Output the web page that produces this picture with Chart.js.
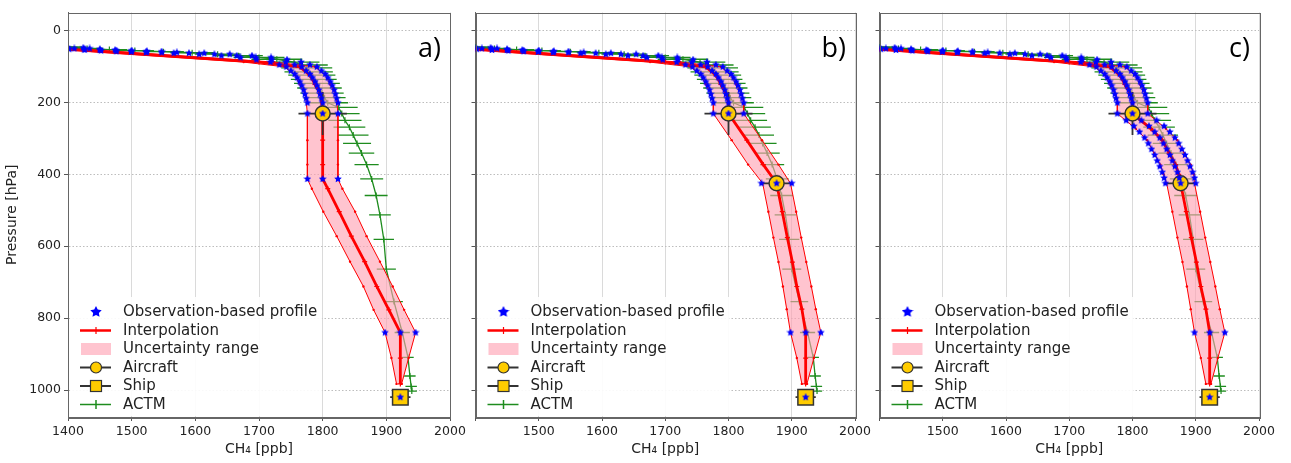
<!DOCTYPE html>
<html>
<head>
<meta charset="utf-8">
<script src="https://cdn.jsdelivr.net/npm/chart.js@4.4.1/dist/chart.umd.min.js"></script>
<style>
  html, body { margin: 0; padding: 0; background: #fff; }
  #wrap { position: relative; width: 1291px; height: 463px; overflow: hidden; }
  .panel { position: absolute; top: 0; }
</style>
</head>
<body>
<div id="wrap">
  <canvas class="panel" id="pa" width="470" height="463" style="left:0px"></canvas>
  <canvas class="panel" id="pb" width="412" height="463" style="left:463px"></canvas>
  <canvas class="panel" id="pc" width="412" height="463" style="left:867px"></canvas>
</div>
<script>
// ---- data (pressure in hPa, CH4 in ppb) ----
const xTicks = [1400, 1500, 1600, 1700, 1800, 1900, 2000];
const yTicks = [0, 200, 400, 600, 800, 1000];

// stratospheric part of the observation-based profile (same in all panels)
const upperP   = [48, 50, 52, 54, 56, 58, 59, 61, 63, 66, 70, 75, 81, 88, 95, 101, 112, 121, 131, 142, 153, 165, 177, 189, 201];
const upperCH4 = [1400, 1410, 1426, 1450, 1476, 1500, 1523, 1547, 1590, 1630, 1665, 1695, 1720, 1742, 1756, 1767, 1774, 1780, 1784, 1788, 1791, 1794, 1796, 1798, 1800];
const obsUnc = 24;

// extra observation levels per panel
const obsP_a   = [231, 413, 840];
const obsCH4_a = [1800, 1800, 1922];
const obsP_b   = [231, 425, 840];
const obsCH4_b = [1800, 1876, 1922];
const obsP_c   = [231, 250, 266, 282, 298, 314, 330, 346, 362, 378, 394, 410, 425, 840];
const obsCH4_c = [1800, 1814, 1826, 1835, 1843, 1849, 1854, 1859, 1863, 1867, 1871, 1874, 1876, 1922];

// interpolation + uncertainty range
const interpP_a   = [52, 88, 101, 124, 150, 178, 231, 305, 373, 413, 440, 504, 572, 643, 712, 777, 840, 911, 983];
const interpCH4_a = [1400, 1700, 1764, 1780, 1788, 1797, 1800, 1800, 1800, 1800, 1808, 1826, 1845, 1866, 1885, 1904, 1922, 1922, 1922];
const interpLo_a  = [1376, 1676, 1740, 1756, 1764, 1773, 1776, 1776, 1776, 1776, 1783, 1801, 1822, 1843, 1864, 1880, 1898, 1908, 1916];
const interpHi_a  = [1424, 1724, 1788, 1804, 1812, 1821, 1824, 1824, 1824, 1824, 1831, 1851, 1869, 1890, 1910, 1928, 1946, 1935, 1924];

const interpP_b   = [52, 88, 101, 124, 150, 178, 201, 231, 305, 373, 425, 504, 576, 644, 712, 775, 840, 911, 983];
const interpCH4_b = [1400, 1700, 1764, 1780, 1788, 1797, 1800, 1800, 1829, 1855, 1876, 1885, 1893, 1901, 1908, 1916, 1922, 1922, 1922];
const interpLo_b  = [1376, 1676, 1740, 1756, 1764, 1773, 1776, 1776, 1805, 1831, 1854, 1863, 1871, 1879, 1886, 1892, 1898, 1908, 1916];
const interpHi_b  = [1424, 1724, 1788, 1804, 1812, 1821, 1824, 1824, 1853, 1879, 1898, 1907, 1915, 1923, 1931, 1938, 1946, 1935, 1924];

const interpP_c   = [52, 88, 101, 124, 150, 178, 201, 231, 273, 305, 341, 373, 400, 425, 504, 576, 644, 712, 775, 840, 911, 983];
const interpCH4_c = [1400, 1700, 1764, 1780, 1788, 1797, 1800, 1800, 1829, 1847, 1858, 1868, 1873, 1876, 1885, 1893, 1901, 1908, 1916, 1922, 1922, 1922];
const interpLo_c  = [1376, 1676, 1740, 1756, 1764, 1773, 1776, 1776, 1805, 1823, 1834, 1844, 1849, 1854, 1863, 1871, 1879, 1886, 1892, 1898, 1908, 1916];
const interpHi_c  = [1424, 1724, 1788, 1804, 1812, 1821, 1824, 1824, 1853, 1871, 1882, 1892, 1897, 1898, 1907, 1915, 1923, 1931, 1938, 1946, 1935, 1924];

// aircraft and ship
const aircraftP_a = [231];
const aircraftCH4_a = [1800];
const aircraftP_bc = [231, 425];
const aircraftCH4_bc = [1800, 1876];
const aircraftErrX = [38, 22];
const aircraftErrP = [60, 0];
const shipP = [1020];
const shipCH4 = [1922];
const shipErrX = [16];

// ACTM model profile (same in all panels)
const actmP   = [46, 50, 53, 56, 59, 62, 66, 70, 75, 80, 88, 96, 104, 115, 124, 136, 147, 160, 174, 187, 201, 214, 231, 250, 269, 291, 314, 341, 373, 413, 459, 513, 581, 664, 754, 840, 909, 961, 990, 1003];
const actmCH4 = [1400, 1430, 1465, 1505, 1550, 1595, 1635, 1668, 1700, 1728, 1755, 1768, 1775, 1778, 1783, 1786, 1791, 1795, 1799, 1803, 1808, 1825, 1830, 1835, 1842, 1848, 1854, 1861, 1869, 1877, 1884, 1890, 1896, 1900, 1912, 1925, 1934, 1937, 1939, 1940];
const actmErr = [22, 25, 28, 30, 32, 34, 36, 38, 40, 40, 40, 40, 40, 38, 37, 36, 36, 35, 34, 33, 32, 30, 28, 26, 25, 24, 22, 20, 19, 18, 18, 17, 16, 15, 14, 12, 9, 9, 9, 8];

const legendLabels = ['Observation-based profile', 'Interpolation', 'Uncertainty range', 'Aircraft', 'Ship', 'ACTM'];

// ---- drawing ----
Chart.defaults.font.family = "'DejaVu Sans', sans-serif";
Chart.defaults.color = '#222';

const RED = '#ff0000', BLUE = '#0000ff', GREEN = '#1e8c1e', GOLD = '#ffcc00', DARK = '#333333';
const PINK = 'rgba(255, 160, 178, 0.62)';

function makeStar(size, color) {
  const c = document.createElement('canvas');
  c.width = c.height = size;
  const g = c.getContext('2d');
  const r = size / 2, ri = r * 0.5;
  g.beginPath();
  for (let k = 0; k < 10; k++) {
    const ang = -Math.PI / 2 + k * Math.PI / 5;
    const rr = k % 2 ? ri : r;
    g.lineTo(r + rr * Math.cos(ang), r + rr * Math.sin(ang));
  }
  g.closePath();
  g.fillStyle = color;
  g.fill();
  return c;
}
const starSmall = makeStar(8, BLUE);
const starBig = makeStar(12, BLUE);

const pts = (P, C) => P.map((p, i) => ({x: C[i], y: p}));

function starData(P, C) {
  const mid = pts(P, C);
  const lo = mid.map(d => ({x: d.x - obsUnc, y: d.y}));
  const hi = mid.map(d => ({x: d.x + obsUnc, y: d.y}));
  return mid.concat(lo, hi, pts(shipP, shipCH4));
}

const extras = {
  id: 'extras',
  beforeDatasetDraw(chart, args) {
    const ds = chart.data.datasets[args.index];
    const xs = chart.scales.x, ys = chart.scales.y, a = chart.chartArea, ctx = chart.ctx;
    if (!ds.band && !ds.xErr && !ds.yErr) return;
    ctx.save();
    ctx.beginPath();
    ctx.rect(a.left, a.top, a.right - a.left, a.bottom - a.top);
    ctx.clip();
    if (ds.band) {
      const b = ds.band;
      ctx.beginPath();
      b.p.forEach((p, i) => {
        const X = xs.getPixelForValue(b.lo[i]), Y = ys.getPixelForValue(p);
        if (i) ctx.lineTo(X, Y); else ctx.moveTo(X, Y);
      });
      for (let i = b.p.length - 1; i >= 0; i--) {
        ctx.lineTo(xs.getPixelForValue(b.hi[i]), ys.getPixelForValue(b.p[i]));
      }
      ctx.closePath();
      ctx.fillStyle = PINK;
      ctx.fill();
    }
    ctx.strokeStyle = ds.errColor || DARK;
    ctx.lineWidth = ds.errWidth || 1.5;
    ds.data.forEach((d, i) => {
      const X = xs.getPixelForValue(d.x), Y = ys.getPixelForValue(d.y);
      if (ds.xErr && ds.xErr[i]) {
        ctx.beginPath();
        ctx.moveTo(xs.getPixelForValue(d.x - ds.xErr[i]), Y);
        ctx.lineTo(xs.getPixelForValue(d.x + ds.xErr[i]), Y);
        ctx.stroke();
      }
      if (ds.yErr && ds.yErr[i]) {
        ctx.beginPath();
        ctx.moveTo(X, ys.getPixelForValue(d.y - ds.yErr[i]));
        ctx.lineTo(X, ys.getPixelForValue(d.y + ds.yErr[i]));
        ctx.stroke();
      }
    });
    ctx.restore();
  },
  afterDraw(chart, args, opts) {
    const a = chart.chartArea, ctx = chart.ctx;
    ctx.save();
    // frame
    ctx.strokeStyle = '#666';
    ctx.lineWidth = 1;
    ctx.strokeRect(Math.round(a.left) + 0.5, Math.round(a.top) + 0.5, Math.round(a.right - a.left), Math.round(a.bottom - a.top));

    // legend
    const L = a.left;
    const rows = [312, 330.5, 349, 367.5, 386, 404.5];
    ctx.fillStyle = 'rgba(255,255,255,0.9)';
    ctx.fillRect(L + 2, 297, 252, a.bottom - 298);
    const x0 = L + 12, x1 = L + 43, xm = L + 28;
    // observation star
    ctx.drawImage(starBig, xm - 6, rows[0] - 6);
    // interpolation
    ctx.strokeStyle = RED; ctx.lineWidth = 2.5;
    ctx.beginPath(); ctx.moveTo(x0, rows[1]); ctx.lineTo(x1, rows[1]); ctx.stroke();
    ctx.lineWidth = 1.2;
    ctx.beginPath(); ctx.moveTo(xm, rows[1] - 3.5); ctx.lineTo(xm, rows[1] + 3.5); ctx.stroke();
    // uncertainty
    ctx.fillStyle = PINK;
    ctx.fillRect(x0 + 1, rows[2] - 6, x1 - x0 - 1, 12);
    // aircraft
    ctx.strokeStyle = DARK; ctx.lineWidth = 2;
    ctx.beginPath(); ctx.moveTo(x0, rows[3]); ctx.lineTo(x1, rows[3]); ctx.stroke();
    ctx.fillStyle = GOLD; ctx.lineWidth = 1.2;
    ctx.beginPath(); ctx.arc(xm, rows[3], 5.5, 0, Math.PI * 2); ctx.fill(); ctx.stroke();
    // ship
    ctx.lineWidth = 2;
    ctx.beginPath(); ctx.moveTo(x0, rows[4]); ctx.lineTo(x1, rows[4]); ctx.stroke();
    ctx.lineWidth = 1.2;
    ctx.fillRect(xm - 5.5, rows[4] - 5.5, 11, 11); ctx.strokeRect(xm - 5.5, rows[4] - 5.5, 11, 11);
    // ACTM
    ctx.strokeStyle = GREEN; ctx.lineWidth = 1.5;
    ctx.beginPath(); ctx.moveTo(x0, rows[5]); ctx.lineTo(x1, rows[5]); ctx.stroke();
    ctx.beginPath(); ctx.moveTo(xm, rows[5] - 4.5); ctx.lineTo(xm, rows[5] + 4.5); ctx.stroke();

    ctx.fillStyle = '#222';
    ctx.font = "15px 'DejaVu Sans', sans-serif";
    ctx.textBaseline = 'middle';
    ctx.textAlign = 'left';
    legendLabels.forEach((t, i) => ctx.fillText(t, L + 55, rows[i] + 0.5));

    // panel label
    ctx.font = "27px 'Open Sans', sans-serif";
    ctx.textAlign = 'right';
    ctx.textBaseline = 'alphabetic';
    ctx.fillStyle = '#000';
    ctx.fillText(opts.label, a.right - 9, a.top + 44);
    ctx.restore();
  }
};

function buildPanel(id, label, showY, obsP, obsCH4, iP, iC, iLo, iHi, acP, acC) {
  const datasets = [
    { label: 'obs', data: starData(upperP.concat(obsP), upperCH4.concat(obsCH4)),
      pointStyle: starSmall, pointRadius: 4, order: 0 },
    { label: 'aircraft', data: pts(acP, acC), pointStyle: 'circle', pointRadius: 7.5,
      pointBackgroundColor: GOLD, pointBorderColor: DARK, pointBorderWidth: 1.5,
      xErr: aircraftErrX, yErr: aircraftErrP, errColor: DARK, errWidth: 1.8, order: 1 },
    { label: 'ship', data: pts(shipP, shipCH4), pointStyle: 'rect', pointRadius: 11,
      pointBackgroundColor: GOLD, pointBorderColor: DARK, pointBorderWidth: 1.5,
      xErr: shipErrX, errColor: DARK, errWidth: 1.8, order: 1 },
    { label: 'interp', data: pts(iP, iC), showLine: true, borderColor: RED, borderWidth: 2.8,
      pointStyle: 'cross', pointRadius: 2.5, pointBorderColor: RED, pointBorderWidth: 1.2, order: 2 },
    { label: 'hi', data: pts(iP, iHi), showLine: true, borderColor: RED, borderWidth: 1,
      pointStyle: 'circle', pointRadius: 1.2, pointBackgroundColor: RED, pointBorderWidth: 0, order: 3 },
    { label: 'lo', data: pts(iP, iLo), showLine: true, borderColor: RED, borderWidth: 1,
      pointStyle: 'circle', pointRadius: 1.2, pointBackgroundColor: RED, pointBorderWidth: 0,
      band: { p: iP, lo: iLo, hi: iHi }, order: 4 },
    { label: 'ACTM', data: pts(actmP, actmCH4), showLine: true, borderColor: GREEN, borderWidth: 1.3,
      pointStyle: 'line', pointRotation: 90, pointRadius: 3, pointBorderColor: GREEN, pointBorderWidth: 1.2,
      xErr: actmErr, errColor: GREEN, errWidth: 1.3, order: 5 }
  ];

  return new Chart(document.getElementById(id), {
    type: 'scatter',
    data: { datasets },
    plugins: [extras],
    options: {
      responsive: false,
      animation: false,
      events: [],
      layout: { padding: { top: 3, right: 20, left: 0, bottom: 0 } },
      plugins: { legend: { display: false }, tooltip: { enabled: false }, extras: { label } },
      scales: {
        x: {
          type: 'linear', min: 1400, max: 2000,
          afterBuildTicks: s => { s.ticks = xTicks.map(v => ({ value: v })); },
          ticks: { font: { size: 12.5 }, color: '#222', padding: 3, maxRotation: 0, autoSkip: false,
                   callback: v => (!showY && v === 1400) ? '' : String(v) },
          grid: { color: '#dadada', lineWidth: 1, tickColor: '#555', tickLength: 4 },
          border: { color: '#666' },
          title: { display: true, text: 'CH₄ [ppb]', font: { size: 14 }, color: '#222', padding: { top: 0, bottom: 5 } },
          afterFit: s => { s.height = 46; }
        },
        y: {
          type: 'linear', min: -50, max: 1075, reverse: true,
          afterBuildTicks: s => { s.ticks = yTicks.map(v => ({ value: v })); },
          ticks: { display: showY, font: { size: 12.5 }, color: '#222', padding: 3, callback: v => String(v) },
          grid: { color: '#bdbdbd', lineWidth: 1, tickColor: '#555', tickLength: 4 },
          border: { color: '#666', dash: [1.5, 2] },
          title: { display: showY, text: 'Pressure [hPa]', font: { size: 14 }, color: '#222', padding: { top: 4, bottom: 0 } },
          afterFit: s => { s.width = showY ? 68 : 10; }
        }
      }
    }
  });
}

buildPanel('pa', 'a)', true, obsP_a, obsCH4_a, interpP_a, interpCH4_a, interpLo_a, interpHi_a, aircraftP_a, aircraftCH4_a);
buildPanel('pb', 'b)', false, obsP_b, obsCH4_b, interpP_b, interpCH4_b, interpLo_b, interpHi_b, aircraftP_bc, aircraftCH4_bc);
buildPanel('pc', 'c)', false, obsP_c, obsCH4_c, interpP_c, interpCH4_c, interpLo_c, interpHi_c, aircraftP_bc, aircraftCH4_bc);
</script>
</body>
</html>
